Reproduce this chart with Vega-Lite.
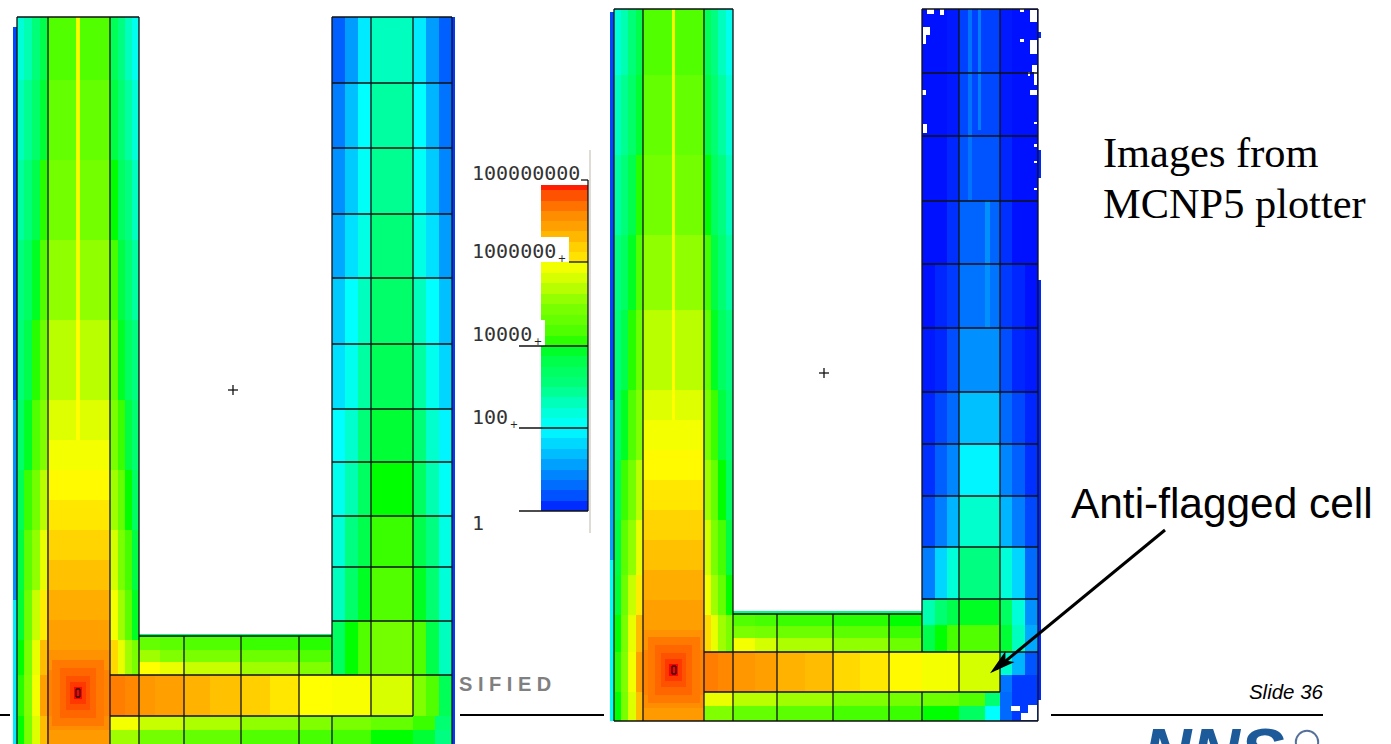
{"$schema":"https://vega.github.io/schema/vega-lite/v6.json","width":1391,"height":744,"padding":0,"autosize":{"type":"none"},"background":"white","config":{"view":{"stroke":null}},
"encoding":{"x":{"field":"x","type":"quantitative","scale":{"domain":[0,1391],"nice":false,"zero":false},"axis":null},"y":{"field":"y","type":"quantitative","scale":{"domain":[744,0],"nice":false,"zero":false},"axis":null}},
"datasets":{"cells":[
{"x":17,"x2":24,"y":17,"y2":80,"v":2.4},{"x":24,"x2":32,"y":17,"y2":80,"v":2.7},{"x":32,"x2":40,"y":17,"y2":80,"v":3.1},{"x":40,"x2":47,"y":17,"y2":80,"v":3.6},{"x":47,"x2":76,"y":17,"y2":80,"v":4.4},{"x":76,"x2":80,"y":17,"y2":80,"v":5.9},{"x":80,"x2":110,"y":17,"y2":80,"v":4.4},{"x":110,"x2":118,"y":17,"y2":80,"v":3.5},{"x":118,"x2":125,"y":17,"y2":80,"v":3.0},{"x":125,"x2":132,"y":17,"y2":80,"v":2.6},{"x":132,"x2":139,"y":17,"y2":80,"v":2.2},
{"x":17,"x2":24,"y":80,"y2":160,"v":2.6},{"x":24,"x2":32,"y":80,"y2":160,"v":2.9},{"x":32,"x2":40,"y":80,"y2":160,"v":3.3},{"x":40,"x2":47,"y":80,"y2":160,"v":3.8},{"x":47,"x2":76,"y":80,"y2":160,"v":4.6},{"x":76,"x2":80,"y":80,"y2":160,"v":5.9},{"x":80,"x2":110,"y":80,"y2":160,"v":4.6},{"x":110,"x2":118,"y":80,"y2":160,"v":3.7},{"x":118,"x2":125,"y":80,"y2":160,"v":3.2},{"x":125,"x2":132,"y":80,"y2":160,"v":2.8},{"x":132,"x2":139,"y":80,"y2":160,"v":2.4},
{"x":17,"x2":24,"y":160,"y2":240,"v":2.8},{"x":24,"x2":32,"y":160,"y2":240,"v":3.1},{"x":32,"x2":40,"y":160,"y2":240,"v":3.6},{"x":40,"x2":47,"y":160,"y2":240,"v":4.1},{"x":47,"x2":76,"y":160,"y2":240,"v":4.8},{"x":76,"x2":80,"y":160,"y2":240,"v":5.9},{"x":80,"x2":110,"y":160,"y2":240,"v":4.8},{"x":110,"x2":118,"y":160,"y2":240,"v":4.0},{"x":118,"x2":125,"y":160,"y2":240,"v":3.4},{"x":125,"x2":132,"y":160,"y2":240,"v":3.0},{"x":132,"x2":139,"y":160,"y2":240,"v":2.6},
{"x":17,"x2":24,"y":240,"y2":320,"v":3.0},{"x":24,"x2":32,"y":240,"y2":320,"v":3.4},{"x":32,"x2":40,"y":240,"y2":320,"v":3.9},{"x":40,"x2":47,"y":240,"y2":320,"v":4.4},{"x":47,"x2":76,"y":240,"y2":320,"v":5.1},{"x":76,"x2":80,"y":240,"y2":320,"v":5.9},{"x":80,"x2":110,"y":240,"y2":320,"v":5.1},{"x":110,"x2":118,"y":240,"y2":320,"v":4.3},{"x":118,"x2":125,"y":240,"y2":320,"v":3.7},{"x":125,"x2":132,"y":240,"y2":320,"v":3.2},{"x":132,"x2":139,"y":240,"y2":320,"v":2.8},
{"x":17,"x2":24,"y":320,"y2":400,"v":3.1},{"x":24,"x2":32,"y":320,"y2":400,"v":3.6},{"x":32,"x2":40,"y":320,"y2":400,"v":4.1},{"x":40,"x2":47,"y":320,"y2":400,"v":4.7},{"x":47,"x2":76,"y":320,"y2":400,"v":5.4},{"x":76,"x2":80,"y":320,"y2":400,"v":6.0},{"x":80,"x2":110,"y":320,"y2":400,"v":5.4},{"x":110,"x2":118,"y":320,"y2":400,"v":4.6},{"x":118,"x2":125,"y":320,"y2":400,"v":3.9},{"x":125,"x2":132,"y":320,"y2":400,"v":3.4},{"x":132,"x2":139,"y":320,"y2":400,"v":3.0},
{"x":17,"x2":24,"y":400,"y2":470,"v":3.3},{"x":24,"x2":32,"y":400,"y2":470,"v":3.9},{"x":32,"x2":40,"y":400,"y2":470,"v":4.4},{"x":40,"x2":47,"y":400,"y2":470,"v":5.0},{"x":47,"x2":76,"y":400,"y2":470,"v":5.7},{"x":76,"x2":80,"y":400,"y2":470,"v":6.0},{"x":80,"x2":110,"y":400,"y2":470,"v":5.7},{"x":110,"x2":118,"y":400,"y2":470,"v":4.9},{"x":118,"x2":125,"y":400,"y2":470,"v":4.2},{"x":125,"x2":132,"y":400,"y2":470,"v":3.7},{"x":132,"x2":139,"y":400,"y2":470,"v":3.2},
{"x":17,"x2":24,"y":470,"y2":530,"v":3.5},{"x":24,"x2":32,"y":470,"y2":530,"v":4.2},{"x":32,"x2":40,"y":470,"y2":530,"v":4.8},{"x":40,"x2":47,"y":470,"y2":530,"v":5.4},{"x":110,"x2":118,"y":470,"y2":530,"v":5.2},{"x":118,"x2":125,"y":470,"y2":530,"v":4.6},{"x":125,"x2":132,"y":470,"y2":530,"v":4.0},{"x":132,"x2":139,"y":470,"y2":530,"v":3.4},
{"x":17,"x2":24,"y":530,"y2":590,"v":3.7},{"x":24,"x2":32,"y":530,"y2":590,"v":4.5},{"x":32,"x2":40,"y":530,"y2":590,"v":5.1},{"x":40,"x2":47,"y":530,"y2":590,"v":5.8},{"x":110,"x2":118,"y":530,"y2":590,"v":5.6},{"x":118,"x2":125,"y":530,"y2":590,"v":4.9},{"x":125,"x2":132,"y":530,"y2":590,"v":4.3},{"x":132,"x2":139,"y":530,"y2":590,"v":3.7},
{"x":17,"x2":24,"y":590,"y2":640,"v":3.8},{"x":24,"x2":32,"y":590,"y2":640,"v":4.7},{"x":32,"x2":40,"y":590,"y2":640,"v":5.5},{"x":40,"x2":47,"y":590,"y2":640,"v":6.2},{"x":110,"x2":118,"y":590,"y2":640,"v":5.9},{"x":118,"x2":125,"y":590,"y2":640,"v":5.2},{"x":125,"x2":132,"y":590,"y2":640,"v":4.5},{"x":132,"x2":139,"y":590,"y2":640,"v":3.9},
{"x":17,"x2":24,"y":640,"y2":675,"v":4.0},{"x":24,"x2":32,"y":640,"y2":675,"v":4.9},{"x":32,"x2":40,"y":640,"y2":675,"v":5.8},{"x":40,"x2":47,"y":640,"y2":675,"v":6.7},{"x":110,"x2":118,"y":640,"y2":675,"v":6.4},{"x":118,"x2":125,"y":640,"y2":675,"v":5.8},{"x":125,"x2":132,"y":640,"y2":675,"v":5.2},{"x":132,"x2":139,"y":640,"y2":675,"v":4.9},
{"x":17,"x2":24,"y":675,"y2":716,"v":4.1},{"x":24,"x2":32,"y":675,"y2":716,"v":5.0},{"x":32,"x2":40,"y":675,"y2":716,"v":5.9},{"x":40,"x2":47,"y":675,"y2":716,"v":7.0},
{"x":17,"x2":24,"y":716,"y2":744,"v":4.0},{"x":24,"x2":32,"y":716,"y2":744,"v":4.9},{"x":32,"x2":40,"y":716,"y2":744,"v":5.7},{"x":40,"x2":47,"y":716,"y2":744,"v":6.7},
{"x":47,"x2":110,"y":440,"y2":470,"v":5.9},{"x":47,"x2":110,"y":470,"y2":500,"v":6.05},{"x":47,"x2":110,"y":500,"y2":530,"v":6.25},{"x":47,"x2":110,"y":530,"y2":560,"v":6.45},{"x":47,"x2":110,"y":560,"y2":590,"v":6.65},{"x":47,"x2":110,"y":590,"y2":620,"v":6.85},{"x":47,"x2":110,"y":620,"y2":650,"v":7.0},{"x":47,"x2":110,"y":650,"y2":670,"v":7.15},{"x":47,"x2":110,"y":670,"y2":716,"v":7.3},{"x":47,"x2":110,"y":716,"y2":730,"v":7.2},{"x":47,"x2":110,"y":730,"y2":744,"v":7.05},
{"x":52,"x2":104,"y":660,"y2":726,"v":7.4},{"x":60,"x2":96,"y":668,"y2":718,"v":7.55},{"x":66,"x2":90,"y":676,"y2":710,"v":7.7},{"x":70,"x2":86,"y":682,"y2":704,"v":7.85},{"x":74,"x2":82,"y":687,"y2":699,"v":8},
{"x":139,"x2":332,"y":634,"y2":637,"v":3.2},
{"x":139,"x2":160,"y":637,"y2":650,"v":4.6},{"x":160,"x2":184,"y":637,"y2":650,"v":4.5},{"x":184,"x2":241,"y":637,"y2":650,"v":4.4},{"x":241,"x2":299,"y":637,"y2":650,"v":4.2},{"x":299,"x2":332,"y":637,"y2":650,"v":4.1},
{"x":139,"x2":160,"y":650,"y2":662,"v":5.2},{"x":160,"x2":184,"y":650,"y2":662,"v":5.0},{"x":184,"x2":241,"y":650,"y2":662,"v":4.9},{"x":241,"x2":299,"y":650,"y2":662,"v":4.7},{"x":299,"x2":332,"y":650,"y2":662,"v":4.4},
{"x":139,"x2":160,"y":662,"y2":675,"v":6.0},{"x":160,"x2":184,"y":662,"y2":675,"v":5.8},{"x":184,"x2":241,"y":662,"y2":675,"v":5.5},{"x":241,"x2":299,"y":662,"y2":675,"v":5.2},{"x":299,"x2":332,"y":662,"y2":675,"v":5.0},
{"x":110,"x2":125,"y":675,"y2":716,"v":7.35},{"x":125,"x2":139,"y":675,"y2":716,"v":7.25},{"x":139,"x2":155,"y":675,"y2":716,"v":7.1},{"x":155,"x2":184,"y":675,"y2":716,"v":7.0},{"x":184,"x2":210,"y":675,"y2":716,"v":6.8},{"x":210,"x2":241,"y":675,"y2":716,"v":6.65},{"x":241,"x2":270,"y":675,"y2":716,"v":6.5},{"x":270,"x2":299,"y":675,"y2":716,"v":6.25},{"x":299,"x2":332,"y":675,"y2":716,"v":6.0},{"x":332,"x2":371,"y":675,"y2":716,"v":5.95},{"x":371,"x2":413,"y":675,"y2":716,"v":5.65},{"x":413,"x2":426,"y":675,"y2":716,"v":5.0},{"x":426,"x2":439,"y":675,"y2":716,"v":4.4},{"x":439,"x2":452,"y":675,"y2":716,"v":3.5},
{"x":110,"x2":139,"y":716,"y2":730,"v":5.9},{"x":139,"x2":184,"y":716,"y2":730,"v":5.5},{"x":184,"x2":241,"y":716,"y2":730,"v":5.3},{"x":241,"x2":299,"y":716,"y2":730,"v":5.1},{"x":299,"x2":332,"y":716,"y2":730,"v":5.0},{"x":332,"x2":371,"y":716,"y2":730,"v":4.9},{"x":371,"x2":413,"y":716,"y2":730,"v":4.6},{"x":413,"x2":435,"y":716,"y2":730,"v":4.2},{"x":435,"x2":452,"y":716,"y2":730,"v":3.2},
{"x":110,"x2":139,"y":730,"y2":744,"v":5.2},{"x":139,"x2":184,"y":730,"y2":744,"v":4.8},{"x":184,"x2":241,"y":730,"y2":744,"v":4.6},{"x":241,"x2":299,"y":730,"y2":744,"v":4.4},{"x":299,"x2":332,"y":730,"y2":744,"v":4.3},{"x":332,"x2":371,"y":730,"y2":744,"v":4.3},{"x":371,"x2":413,"y":730,"y2":744,"v":4.0},{"x":413,"x2":435,"y":730,"y2":744,"v":3.8},{"x":435,"x2":452,"y":730,"y2":744,"v":3.0},
{"x":332,"x2":345,"y":17,"y2":83,"v":0.5},{"x":345,"x2":358,"y":17,"y2":83,"v":1.1},{"x":358,"x2":371,"y":17,"y2":83,"v":1.8},{"x":371,"x2":413,"y":17,"y2":83,"v":2.6},{"x":413,"x2":426,"y":17,"y2":83,"v":1.8},{"x":426,"x2":439,"y":17,"y2":83,"v":1.1},{"x":439,"x2":452,"y":17,"y2":83,"v":0.5},
{"x":332,"x2":345,"y":83,"y2":148,"v":0.8},{"x":345,"x2":358,"y":83,"y2":148,"v":1.4},{"x":358,"x2":371,"y":83,"y2":148,"v":2.0},{"x":371,"x2":413,"y":83,"y2":148,"v":2.8},{"x":413,"x2":426,"y":83,"y2":148,"v":2.0},{"x":426,"x2":439,"y":83,"y2":148,"v":1.3},{"x":439,"x2":452,"y":83,"y2":148,"v":0.7},
{"x":332,"x2":345,"y":148,"y2":214,"v":1.0},{"x":345,"x2":358,"y":148,"y2":214,"v":1.5},{"x":358,"x2":371,"y":148,"y2":214,"v":2.1},{"x":371,"x2":413,"y":148,"y2":214,"v":2.9},{"x":413,"x2":426,"y":148,"y2":214,"v":2.1},{"x":426,"x2":439,"y":148,"y2":214,"v":1.5},{"x":439,"x2":452,"y":148,"y2":214,"v":0.9},
{"x":332,"x2":345,"y":214,"y2":278,"v":1.2},{"x":345,"x2":358,"y":214,"y2":278,"v":1.7},{"x":358,"x2":371,"y":214,"y2":278,"v":2.3},{"x":371,"x2":413,"y":214,"y2":278,"v":3.1},{"x":413,"x2":426,"y":214,"y2":278,"v":2.3},{"x":426,"x2":439,"y":214,"y2":278,"v":1.7},{"x":439,"x2":452,"y":214,"y2":278,"v":1.1},
{"x":332,"x2":345,"y":278,"y2":344,"v":1.5},{"x":345,"x2":358,"y":278,"y2":344,"v":2.0},{"x":358,"x2":371,"y":278,"y2":344,"v":2.6},{"x":371,"x2":413,"y":278,"y2":344,"v":3.3},{"x":413,"x2":426,"y":278,"y2":344,"v":2.6},{"x":426,"x2":439,"y":278,"y2":344,"v":2.0},{"x":439,"x2":452,"y":278,"y2":344,"v":1.4},
{"x":332,"x2":345,"y":344,"y2":409,"v":1.7},{"x":345,"x2":358,"y":344,"y2":409,"v":2.2},{"x":358,"x2":371,"y":344,"y2":409,"v":2.8},{"x":371,"x2":413,"y":344,"y2":409,"v":3.5},{"x":413,"x2":426,"y":344,"y2":409,"v":2.8},{"x":426,"x2":439,"y":344,"y2":409,"v":2.2},{"x":439,"x2":452,"y":344,"y2":409,"v":1.6},
{"x":332,"x2":345,"y":409,"y2":462,"v":2.0},{"x":345,"x2":358,"y":409,"y2":462,"v":2.5},{"x":358,"x2":371,"y":409,"y2":462,"v":3.1},{"x":371,"x2":413,"y":409,"y2":462,"v":3.8},{"x":413,"x2":426,"y":409,"y2":462,"v":3.1},{"x":426,"x2":439,"y":409,"y2":462,"v":2.5},{"x":439,"x2":452,"y":409,"y2":462,"v":1.9},
{"x":332,"x2":345,"y":462,"y2":516,"v":2.2},{"x":345,"x2":358,"y":462,"y2":516,"v":2.7},{"x":358,"x2":371,"y":462,"y2":516,"v":3.4},{"x":371,"x2":413,"y":462,"y2":516,"v":4.0},{"x":413,"x2":426,"y":462,"y2":516,"v":3.4},{"x":426,"x2":439,"y":462,"y2":516,"v":2.7},{"x":439,"x2":452,"y":462,"y2":516,"v":2.1},
{"x":332,"x2":345,"y":516,"y2":568,"v":2.4},{"x":345,"x2":358,"y":516,"y2":568,"v":3.0},{"x":358,"x2":371,"y":516,"y2":568,"v":3.6},{"x":371,"x2":413,"y":516,"y2":568,"v":4.2},{"x":413,"x2":426,"y":516,"y2":568,"v":3.6},{"x":426,"x2":439,"y":516,"y2":568,"v":3.0},{"x":439,"x2":452,"y":516,"y2":568,"v":2.3},
{"x":332,"x2":345,"y":568,"y2":621,"v":2.6},{"x":345,"x2":358,"y":568,"y2":621,"v":3.3},{"x":358,"x2":371,"y":568,"y2":621,"v":3.9},{"x":371,"x2":413,"y":568,"y2":621,"v":4.4},{"x":413,"x2":426,"y":568,"y2":621,"v":3.9},{"x":426,"x2":439,"y":568,"y2":621,"v":3.2},{"x":439,"x2":452,"y":568,"y2":621,"v":2.4},
{"x":332,"x2":345,"y":621,"y2":675,"v":3.4},{"x":345,"x2":358,"y":621,"y2":675,"v":4.0},{"x":358,"x2":371,"y":621,"y2":675,"v":4.4},{"x":371,"x2":413,"y":621,"y2":675,"v":4.8},{"x":413,"x2":426,"y":621,"y2":675,"v":4.4},{"x":426,"x2":439,"y":621,"y2":675,"v":3.6},{"x":439,"x2":452,"y":621,"y2":675,"v":2.6},
{"x":13,"x2":17,"y":27,"y2":400,"v":0.3},{"x":13,"x2":17,"y":400,"y2":600,"v":1.0},{"x":13,"x2":17,"y":600,"y2":744,"v":1.8},{"x":452,"x2":455,"y":17,"y2":744,"v":0.2},
{"x":614,"x2":621,"y":9,"y2":75,"v":2.4},{"x":621,"x2":628,"y":9,"y2":75,"v":2.7},{"x":628,"x2":636,"y":9,"y2":75,"v":3.1},{"x":636,"x2":643,"y":9,"y2":75,"v":3.6},{"x":643,"x2":672,"y":9,"y2":75,"v":4.4},{"x":672,"x2":675,"y":9,"y2":75,"v":5.9},{"x":675,"x2":704,"y":9,"y2":75,"v":4.4},{"x":704,"x2":711,"y":9,"y2":75,"v":3.5},{"x":711,"x2":718,"y":9,"y2":75,"v":3.0},{"x":718,"x2":726,"y":9,"y2":75,"v":2.6},{"x":726,"x2":733,"y":9,"y2":75,"v":2.2},
{"x":614,"x2":621,"y":75,"y2":155,"v":2.6},{"x":621,"x2":628,"y":75,"y2":155,"v":2.9},{"x":628,"x2":636,"y":75,"y2":155,"v":3.3},{"x":636,"x2":643,"y":75,"y2":155,"v":3.8},{"x":643,"x2":672,"y":75,"y2":155,"v":4.6},{"x":672,"x2":675,"y":75,"y2":155,"v":5.9},{"x":675,"x2":704,"y":75,"y2":155,"v":4.6},{"x":704,"x2":711,"y":75,"y2":155,"v":3.7},{"x":711,"x2":718,"y":75,"y2":155,"v":3.2},{"x":718,"x2":726,"y":75,"y2":155,"v":2.8},{"x":726,"x2":733,"y":75,"y2":155,"v":2.4},
{"x":614,"x2":621,"y":155,"y2":235,"v":2.8},{"x":621,"x2":628,"y":155,"y2":235,"v":3.1},{"x":628,"x2":636,"y":155,"y2":235,"v":3.6},{"x":636,"x2":643,"y":155,"y2":235,"v":4.1},{"x":643,"x2":672,"y":155,"y2":235,"v":4.8},{"x":672,"x2":675,"y":155,"y2":235,"v":5.9},{"x":675,"x2":704,"y":155,"y2":235,"v":4.8},{"x":704,"x2":711,"y":155,"y2":235,"v":4.0},{"x":711,"x2":718,"y":155,"y2":235,"v":3.4},{"x":718,"x2":726,"y":155,"y2":235,"v":3.0},{"x":726,"x2":733,"y":155,"y2":235,"v":2.6},
{"x":614,"x2":621,"y":235,"y2":310,"v":3.0},{"x":621,"x2":628,"y":235,"y2":310,"v":3.4},{"x":628,"x2":636,"y":235,"y2":310,"v":3.9},{"x":636,"x2":643,"y":235,"y2":310,"v":4.4},{"x":643,"x2":672,"y":235,"y2":310,"v":5.1},{"x":672,"x2":675,"y":235,"y2":310,"v":5.9},{"x":675,"x2":704,"y":235,"y2":310,"v":5.1},{"x":704,"x2":711,"y":235,"y2":310,"v":4.3},{"x":711,"x2":718,"y":235,"y2":310,"v":3.7},{"x":718,"x2":726,"y":235,"y2":310,"v":3.2},{"x":726,"x2":733,"y":235,"y2":310,"v":2.8},
{"x":614,"x2":621,"y":310,"y2":390,"v":3.1},{"x":621,"x2":628,"y":310,"y2":390,"v":3.6},{"x":628,"x2":636,"y":310,"y2":390,"v":4.1},{"x":636,"x2":643,"y":310,"y2":390,"v":4.7},{"x":643,"x2":672,"y":310,"y2":390,"v":5.4},{"x":672,"x2":675,"y":310,"y2":390,"v":6.0},{"x":675,"x2":704,"y":310,"y2":390,"v":5.4},{"x":704,"x2":711,"y":310,"y2":390,"v":4.6},{"x":711,"x2":718,"y":310,"y2":390,"v":3.9},{"x":718,"x2":726,"y":310,"y2":390,"v":3.4},{"x":726,"x2":733,"y":310,"y2":390,"v":3.0},
{"x":614,"x2":621,"y":390,"y2":460,"v":3.3},{"x":621,"x2":628,"y":390,"y2":460,"v":3.9},{"x":628,"x2":636,"y":390,"y2":460,"v":4.4},{"x":636,"x2":643,"y":390,"y2":460,"v":5.0},{"x":643,"x2":672,"y":390,"y2":420,"v":5.7},{"x":672,"x2":675,"y":390,"y2":420,"v":6.0},{"x":675,"x2":704,"y":390,"y2":420,"v":5.7},{"x":704,"x2":711,"y":390,"y2":460,"v":4.9},{"x":711,"x2":718,"y":390,"y2":460,"v":4.2},{"x":718,"x2":726,"y":390,"y2":460,"v":3.7},{"x":726,"x2":733,"y":390,"y2":460,"v":3.2},
{"x":614,"x2":621,"y":460,"y2":520,"v":3.5},{"x":621,"x2":628,"y":460,"y2":520,"v":4.2},{"x":628,"x2":636,"y":460,"y2":520,"v":4.8},{"x":636,"x2":643,"y":460,"y2":520,"v":5.4},{"x":704,"x2":711,"y":460,"y2":520,"v":5.2},{"x":711,"x2":718,"y":460,"y2":520,"v":4.6},{"x":718,"x2":726,"y":460,"y2":520,"v":4.0},{"x":726,"x2":733,"y":460,"y2":520,"v":3.4},
{"x":614,"x2":621,"y":520,"y2":575,"v":3.7},{"x":621,"x2":628,"y":520,"y2":575,"v":4.5},{"x":628,"x2":636,"y":520,"y2":575,"v":5.1},{"x":636,"x2":643,"y":520,"y2":575,"v":5.8},{"x":704,"x2":711,"y":520,"y2":575,"v":5.6},{"x":711,"x2":718,"y":520,"y2":575,"v":4.9},{"x":718,"x2":726,"y":520,"y2":575,"v":4.3},{"x":726,"x2":733,"y":520,"y2":575,"v":3.7},
{"x":614,"x2":621,"y":575,"y2":615,"v":3.8},{"x":621,"x2":628,"y":575,"y2":615,"v":4.7},{"x":628,"x2":636,"y":575,"y2":615,"v":5.5},{"x":636,"x2":643,"y":575,"y2":615,"v":6.2},{"x":704,"x2":711,"y":575,"y2":615,"v":5.9},{"x":711,"x2":718,"y":575,"y2":615,"v":5.2},{"x":718,"x2":726,"y":575,"y2":615,"v":4.6},{"x":726,"x2":733,"y":575,"y2":615,"v":4.0},
{"x":614,"x2":621,"y":615,"y2":652,"v":4.0},{"x":621,"x2":628,"y":615,"y2":652,"v":4.9},{"x":628,"x2":636,"y":615,"y2":652,"v":5.8},{"x":636,"x2":643,"y":615,"y2":652,"v":6.7},{"x":704,"x2":711,"y":615,"y2":652,"v":6.4},{"x":711,"x2":718,"y":615,"y2":652,"v":5.8},{"x":718,"x2":726,"y":615,"y2":652,"v":5.2},{"x":726,"x2":733,"y":615,"y2":652,"v":4.9},
{"x":614,"x2":621,"y":652,"y2":692,"v":4.1},{"x":621,"x2":628,"y":652,"y2":692,"v":5.0},{"x":628,"x2":636,"y":652,"y2":692,"v":5.9},{"x":636,"x2":643,"y":652,"y2":692,"v":7.0},
{"x":614,"x2":621,"y":692,"y2":721,"v":4.0},{"x":621,"x2":628,"y":692,"y2":721,"v":4.9},{"x":628,"x2":636,"y":692,"y2":721,"v":5.7},{"x":636,"x2":643,"y":692,"y2":721,"v":6.7},
{"x":643,"x2":704,"y":420,"y2":450,"v":5.9},{"x":643,"x2":704,"y":450,"y2":480,"v":6.05},{"x":643,"x2":704,"y":480,"y2":510,"v":6.25},{"x":643,"x2":704,"y":510,"y2":540,"v":6.45},{"x":643,"x2":704,"y":540,"y2":570,"v":6.65},{"x":643,"x2":704,"y":570,"y2":600,"v":6.85},{"x":643,"x2":704,"y":600,"y2":630,"v":7.0},{"x":643,"x2":704,"y":630,"y2":650,"v":7.15},{"x":643,"x2":704,"y":650,"y2":695,"v":7.3},{"x":643,"x2":704,"y":695,"y2":708,"v":7.2},{"x":643,"x2":704,"y":708,"y2":721,"v":7.05},
{"x":648,"x2":700,"y":637,"y2":703,"v":7.4},{"x":655,"x2":692,"y":645,"y2":695,"v":7.55},{"x":661,"x2":686,"y":653,"y2":687,"v":7.7},{"x":665,"x2":682,"y":659,"y2":681,"v":7.85},{"x":669,"x2":678,"y":664,"y2":676,"v":8},
{"x":733,"x2":922,"y":611,"y2":614,"v":3.0},
{"x":733,"x2":755,"y":614,"y2":626,"v":4.4},{"x":755,"x2":777,"y":614,"y2":626,"v":4.3},{"x":777,"x2":833,"y":614,"y2":626,"v":4.2},{"x":833,"x2":889,"y":614,"y2":626,"v":4.1},{"x":889,"x2":922,"y":614,"y2":626,"v":4.0},
{"x":733,"x2":755,"y":626,"y2":638,"v":4.9},{"x":755,"x2":777,"y":626,"y2":638,"v":4.8},{"x":777,"x2":833,"y":626,"y2":638,"v":4.7},{"x":833,"x2":889,"y":626,"y2":638,"v":4.5},{"x":889,"x2":922,"y":626,"y2":638,"v":4.2},
{"x":733,"x2":755,"y":638,"y2":652,"v":5.9},{"x":755,"x2":777,"y":638,"y2":652,"v":5.6},{"x":777,"x2":833,"y":638,"y2":652,"v":5.3},{"x":833,"x2":889,"y":638,"y2":652,"v":5.1},{"x":889,"x2":922,"y":638,"y2":652,"v":4.7},
{"x":704,"x2":718,"y":652,"y2":692,"v":7.35},{"x":718,"x2":734,"y":652,"y2":692,"v":7.25},{"x":734,"x2":755,"y":652,"y2":692,"v":7.1},{"x":755,"x2":777,"y":652,"y2":692,"v":7.0},{"x":777,"x2":805,"y":652,"y2":692,"v":6.8},{"x":805,"x2":833,"y":652,"y2":692,"v":6.7},{"x":833,"x2":860,"y":652,"y2":692,"v":6.4},{"x":860,"x2":889,"y":652,"y2":692,"v":6.25},{"x":889,"x2":922,"y":652,"y2":692,"v":6.05},{"x":922,"x2":959,"y":652,"y2":692,"v":5.9},{"x":959,"x2":1000,"y":652,"y2":692,"v":5.6},
{"x":1000,"x2":1012,"y":652,"y2":675,"v":2.5},{"x":1012,"x2":1025,"y":652,"y2":675,"v":1.3},{"x":1025,"x2":1038,"y":652,"y2":675,"v":0.4},{"x":1000,"x2":1012,"y":675,"y2":692,"v":0.7},{"x":1012,"x2":1038,"y":675,"y2":692,"v":0.2},
{"x":704,"x2":734,"y":692,"y2":706,"v":5.8},{"x":734,"x2":777,"y":692,"y2":706,"v":5.4},{"x":777,"x2":833,"y":692,"y2":706,"v":5.2},{"x":833,"x2":889,"y":692,"y2":706,"v":5.0},{"x":889,"x2":922,"y":692,"y2":706,"v":4.8},{"x":922,"x2":959,"y":692,"y2":706,"v":4.7},{"x":959,"x2":985,"y":692,"y2":706,"v":4.4},{"x":985,"x2":1000,"y":692,"y2":706,"v":3.2},{"x":1000,"x2":1012,"y":692,"y2":706,"v":0.6},{"x":1012,"x2":1038,"y":692,"y2":706,"v":0.2},
{"x":704,"x2":734,"y":706,"y2":721,"v":5.0},{"x":734,"x2":777,"y":706,"y2":721,"v":4.6},{"x":777,"x2":833,"y":706,"y2":721,"v":4.5},{"x":833,"x2":889,"y":706,"y2":721,"v":4.3},{"x":889,"x2":922,"y":706,"y2":721,"v":4.2},{"x":922,"x2":959,"y":706,"y2":721,"v":4.0},{"x":959,"x2":985,"y":706,"y2":721,"v":3.4},{"x":985,"x2":1000,"y":706,"y2":721,"v":2.0},{"x":1000,"x2":1012,"y":706,"y2":721,"v":0.6},{"x":1012,"x2":1038,"y":706,"y2":721,"v":0.2},
{"x":922,"x2":947,"y":9,"y2":73,"v":0.03},{"x":947,"x2":959,"y":9,"y2":73,"v":0.05},{"x":959,"x2":1000,"y":9,"y2":73,"v":0.25},{"x":1000,"x2":1012,"y":9,"y2":73,"v":0.05},{"x":1012,"x2":1038,"y":9,"y2":73,"v":0.03},
{"x":922,"x2":947,"y":73,"y2":136,"v":0.03},{"x":947,"x2":959,"y":73,"y2":136,"v":0.05},{"x":959,"x2":1000,"y":73,"y2":136,"v":0.3},{"x":1000,"x2":1012,"y":73,"y2":136,"v":0.05},{"x":1012,"x2":1038,"y":73,"y2":136,"v":0.03},
{"x":922,"x2":947,"y":136,"y2":201,"v":0.03},{"x":947,"x2":959,"y":136,"y2":201,"v":0.1},{"x":959,"x2":1000,"y":136,"y2":201,"v":0.4},{"x":1000,"x2":1012,"y":136,"y2":201,"v":0.1},{"x":1012,"x2":1038,"y":136,"y2":201,"v":0.03},
{"x":922,"x2":947,"y":201,"y2":264,"v":0.03},{"x":947,"x2":959,"y":201,"y2":264,"v":0.15},{"x":959,"x2":1000,"y":201,"y2":264,"v":0.55},{"x":1000,"x2":1012,"y":201,"y2":264,"v":0.15},{"x":1012,"x2":1038,"y":201,"y2":264,"v":0.03},
{"x":922,"x2":935,"y":264,"y2":328,"v":0.03},{"x":935,"x2":947,"y":264,"y2":328,"v":0.1},{"x":947,"x2":959,"y":264,"y2":328,"v":0.2},{"x":959,"x2":1000,"y":264,"y2":328,"v":0.7},{"x":1000,"x2":1012,"y":264,"y2":328,"v":0.2},{"x":1012,"x2":1025,"y":264,"y2":328,"v":0.1},{"x":1025,"x2":1038,"y":264,"y2":328,"v":0.03},
{"x":922,"x2":935,"y":328,"y2":392,"v":0.05},{"x":935,"x2":947,"y":328,"y2":392,"v":0.1},{"x":947,"x2":959,"y":328,"y2":392,"v":0.35},{"x":959,"x2":1000,"y":328,"y2":392,"v":1.0},{"x":1000,"x2":1012,"y":328,"y2":392,"v":0.35},{"x":1012,"x2":1025,"y":328,"y2":392,"v":0.1},{"x":1025,"x2":1038,"y":328,"y2":392,"v":0.05},
{"x":922,"x2":935,"y":392,"y2":444,"v":0.1},{"x":935,"x2":947,"y":392,"y2":444,"v":0.3},{"x":947,"x2":959,"y":392,"y2":444,"v":0.6},{"x":959,"x2":1000,"y":392,"y2":444,"v":1.4},{"x":1000,"x2":1012,"y":392,"y2":444,"v":0.6},{"x":1012,"x2":1025,"y":392,"y2":444,"v":0.3},{"x":1025,"x2":1038,"y":392,"y2":444,"v":0.1},
{"x":922,"x2":935,"y":444,"y2":496,"v":0.15},{"x":935,"x2":947,"y":444,"y2":496,"v":0.5},{"x":947,"x2":959,"y":444,"y2":496,"v":0.9},{"x":959,"x2":1000,"y":444,"y2":496,"v":1.9},{"x":1000,"x2":1012,"y":444,"y2":496,"v":0.9},{"x":1012,"x2":1025,"y":444,"y2":496,"v":0.5},{"x":1025,"x2":1038,"y":444,"y2":496,"v":0.15},
{"x":922,"x2":935,"y":496,"y2":547,"v":0.3},{"x":935,"x2":947,"y":496,"y2":547,"v":0.8},{"x":947,"x2":959,"y":496,"y2":547,"v":1.3},{"x":959,"x2":1000,"y":496,"y2":547,"v":2.5},{"x":1000,"x2":1012,"y":496,"y2":547,"v":1.3},{"x":1012,"x2":1025,"y":496,"y2":547,"v":0.8},{"x":1025,"x2":1038,"y":496,"y2":547,"v":0.3},
{"x":922,"x2":935,"y":547,"y2":600,"v":0.8},{"x":935,"x2":947,"y":547,"y2":600,"v":1.6},{"x":947,"x2":959,"y":547,"y2":600,"v":2.4},{"x":959,"x2":1000,"y":547,"y2":600,"v":3.0},{"x":1000,"x2":1012,"y":547,"y2":600,"v":2.4},{"x":1012,"x2":1025,"y":547,"y2":600,"v":1.6},{"x":1025,"x2":1038,"y":547,"y2":600,"v":0.6},
{"x":922,"x2":935,"y":600,"y2":625,"v":2.7},{"x":935,"x2":947,"y":600,"y2":625,"v":3.2},{"x":947,"x2":959,"y":600,"y2":625,"v":3.6},{"x":959,"x2":1000,"y":600,"y2":625,"v":3.9},{"x":1000,"x2":1012,"y":600,"y2":625,"v":3.4},{"x":1012,"x2":1025,"y":600,"y2":625,"v":2.4},{"x":1025,"x2":1038,"y":600,"y2":625,"v":1.0},
{"x":922,"x2":935,"y":625,"y2":652,"v":3.6},{"x":935,"x2":947,"y":625,"y2":652,"v":4.0},{"x":947,"x2":959,"y":625,"y2":652,"v":4.3},{"x":959,"x2":1000,"y":625,"y2":652,"v":4.4},{"x":1000,"x2":1012,"y":625,"y2":652,"v":3.8},{"x":1012,"x2":1025,"y":625,"y2":652,"v":2.6},{"x":1025,"x2":1038,"y":625,"y2":652,"v":1.2},
{"x":968,"x2":972,"y":9,"y2":200,"v":0.7},{"x":978,"x2":981,"y":9,"y2":130,"v":0.8},{"x":985,"x2":990,"y":200,"y2":392,"v":1.0},
{"x":610,"x2":614,"y":12,"y2":400,"v":0.3},{"x":610,"x2":614,"y":400,"y2":560,"v":1.2},{"x":610,"x2":614,"y":560,"y2":721,"v":2.1},{"x":1038,"x2":1041,"y":280,"y2":700,"v":0.1},{"x":1038,"x2":1041,"y":150,"y2":178,"v":0.1},{"x":1038,"x2":1041,"y":32,"y2":38,"v":0.1},
{"x":541,"x2":588,"y":501,"y2":511,"v":0.125},{"x":541,"x2":588,"y":490,"y2":501,"v":0.375},{"x":541,"x2":588,"y":480,"y2":490,"v":0.625},{"x":541,"x2":588,"y":470,"y2":480,"v":0.875},{"x":541,"x2":588,"y":459,"y2":470,"v":1.125},{"x":541,"x2":588,"y":449,"y2":459,"v":1.375},{"x":541,"x2":588,"y":438,"y2":449,"v":1.625},{"x":541,"x2":588,"y":428,"y2":438,"v":1.875},
{"x":541,"x2":588,"y":418,"y2":428,"v":2.125},{"x":541,"x2":588,"y":408,"y2":418,"v":2.375},{"x":541,"x2":588,"y":397,"y2":408,"v":2.625},{"x":541,"x2":588,"y":387,"y2":397,"v":2.875},{"x":541,"x2":588,"y":377,"y2":387,"v":3.125},{"x":541,"x2":588,"y":367,"y2":377,"v":3.375},{"x":541,"x2":588,"y":356,"y2":367,"v":3.625},{"x":541,"x2":588,"y":346,"y2":356,"v":3.875},
{"x":541,"x2":588,"y":336,"y2":346,"v":4.125},{"x":541,"x2":588,"y":325,"y2":336,"v":4.375},{"x":541,"x2":588,"y":315,"y2":325,"v":4.625},{"x":541,"x2":588,"y":304,"y2":315,"v":4.875},{"x":541,"x2":588,"y":294,"y2":304,"v":5.125},{"x":541,"x2":588,"y":283,"y2":294,"v":5.375},{"x":541,"x2":588,"y":273,"y2":283,"v":5.625},{"x":541,"x2":588,"y":262,"y2":273,"v":5.875},
{"x":541,"x2":588,"y":252,"y2":262,"v":6.3},{"x":541,"x2":588,"y":242,"y2":252,"v":6.5},{"x":541,"x2":588,"y":231,"y2":242,"v":6.75},{"x":541,"x2":588,"y":221,"y2":231,"v":7.0},{"x":541,"x2":588,"y":211,"y2":221,"v":7.2},{"x":541,"x2":588,"y":201,"y2":211,"v":7.45},{"x":541,"x2":588,"y":190,"y2":201,"v":7.7},{"x":541,"x2":588,"y":185,"y2":190,"v":7.95}
],
"holes":[
{"x":541,"x2":569,"y":237,"y2":262},{"x":541,"x2":545,"y":320,"y2":346},
{"x":927,"x2":934,"y":9,"y2":14},{"x":940,"x2":944,"y":9,"y2":15},{"x":1020,"x2":1024,"y":9,"y2":12},{"x":1030,"x2":1037,"y":10,"y2":22},{"x":923,"x2":930,"y":27,"y2":35},{"x":923,"x2":926,"y":35,"y2":44},{"x":1020,"x2":1024,"y":39,"y2":42},{"x":1030,"x2":1037,"y":40,"y2":54},{"x":1032,"x2":1037,"y":65,"y2":72},{"x":1028,"x2":1030,"y":72,"y2":76},{"x":1034,"x2":1037,"y":72,"y2":85},{"x":922,"x2":926,"y":90,"y2":95},{"x":1030,"x2":1037,"y":90,"y2":95},{"x":923,"x2":927,"y":124,"y2":133},{"x":1034,"x2":1037,"y":122,"y2":124},{"x":1034,"x2":1037,"y":144,"y2":147},{"x":1034,"x2":1037,"y":161,"y2":163},{"x":1034,"x2":1037,"y":188,"y2":190},
{"x":1011,"x2":1020,"y":706,"y2":711},{"x":1021,"x2":1037,"y":713,"y2":720},{"x":1028,"x2":1037,"y":705,"y2":713}
],
"grid":[
{"x":17,"y":17,"x2":17,"y2":744},{"x":48,"y":17,"x2":48,"y2":744},{"x":110,"y":17,"x2":110,"y2":744},{"x":139,"y":17,"x2":139,"y2":744},{"x":184,"y":636,"x2":184,"y2":744},{"x":241,"y":636,"x2":241,"y2":744},{"x":299,"y":636,"x2":299,"y2":744},{"x":332,"y":17,"x2":332,"y2":675},{"x":332,"y":716,"x2":332,"y2":744},{"x":371,"y":17,"x2":371,"y2":716},{"x":413,"y":17,"x2":413,"y2":716},{"x":452,"y":17,"x2":452,"y2":744},
{"x":17,"y":17,"x2":139,"y2":17},{"x":332,"y":17,"x2":452,"y2":17},{"x":332,"y":83,"x2":452,"y2":83},{"x":332,"y":148,"x2":452,"y2":148},{"x":332,"y":214,"x2":452,"y2":214},{"x":332,"y":278,"x2":452,"y2":278},{"x":332,"y":344,"x2":452,"y2":344},{"x":332,"y":409,"x2":452,"y2":409},{"x":332,"y":462,"x2":452,"y2":462},{"x":332,"y":516,"x2":452,"y2":516},{"x":332,"y":567,"x2":452,"y2":567},{"x":332,"y":621,"x2":452,"y2":621},{"x":139,"y":636,"x2":332,"y2":636},{"x":110,"y":675,"x2":452,"y2":675},{"x":110,"y":716,"x2":413,"y2":716},
{"x":614,"y":9,"x2":614,"y2":721},{"x":643,"y":9,"x2":643,"y2":721},{"x":704,"y":9,"x2":704,"y2":721},{"x":733,"y":9,"x2":733,"y2":721},{"x":777,"y":614,"x2":777,"y2":721},{"x":833,"y":614,"x2":833,"y2":721},{"x":889,"y":614,"x2":889,"y2":721},{"x":922,"y":9,"x2":922,"y2":652},{"x":922,"y":692,"x2":922,"y2":721},{"x":959,"y":9,"x2":959,"y2":692},{"x":1000,"y":9,"x2":1000,"y2":692},{"x":1038,"y":9,"x2":1038,"y2":721},
{"x":614,"y":9,"x2":733,"y2":9},{"x":922,"y":9,"x2":1038,"y2":9},{"x":614,"y":721,"x2":1038,"y2":721},{"x":733,"y":614,"x2":922,"y2":614},{"x":704,"y":652,"x2":1038,"y2":652},{"x":704,"y":692,"x2":1000,"y2":692},{"x":922,"y":73,"x2":1038,"y2":73},{"x":922,"y":136,"x2":1038,"y2":136},{"x":922,"y":201,"x2":1038,"y2":201},{"x":922,"y":264,"x2":1038,"y2":264},{"x":922,"y":328,"x2":1038,"y2":328},{"x":922,"y":392,"x2":1038,"y2":392},{"x":922,"y":444,"x2":1038,"y2":444},{"x":922,"y":496,"x2":1038,"y2":496},{"x":922,"y":547,"x2":1038,"y2":547},{"x":922,"y":599,"x2":1038,"y2":599},
{"x":228,"y":390,"x2":238,"y2":390},{"x":233,"y":385,"x2":233,"y2":395},{"x":819,"y":373,"x2":829,"y2":373},{"x":824,"y":368,"x2":824,"y2":378},
{"x":76,"y":689,"x2":80,"y2":689},{"x":76,"y":697,"x2":80,"y2":697},{"x":76,"y":689,"x2":76,"y2":697},{"x":80,"y":689,"x2":80,"y2":697},{"x":672,"y":666,"x2":676,"y2":666},{"x":672,"y":674,"x2":676,"y2":674},{"x":672,"y":666,"x2":672,"y2":674},{"x":676,"y":666,"x2":676,"y2":674},
{"x":519,"y":428,"x2":588,"y2":428},{"x":519,"y":346,"x2":588,"y2":346},{"x":519,"y":511,"x2":588,"y2":511},{"x":569,"y":262,"x2":588,"y2":262},{"x":588,"y":180,"x2":588,"y2":511},{"x":581,"y":180,"x2":588,"y2":180}
],
"footer":[{"x":0,"y":715,"x2":10,"y2":715},{"x":460,"y":715,"x2":604,"y2":715},{"x":1051,"y":715,"x2":1323,"y2":715}],
"frame":[{"x":590,"y":150,"x2":590,"y2":533}],
"arrow":[{"x":1165,"y":530,"x2":996,"y2":669}]},
"layer":[
{"data":{"name":"cells"},"mark":{"type":"rect"},"encoding":{"x2":{"field":"x2"},"y2":{"field":"y2"},"color":{"field":"v","type":"quantitative","legend":null,"scale":{"domain":[0,1,2,3,4,5,6,7,8],"range":["#0000ff","#0090ff","#00ffff","#00ff80","#00ff00","#80ff00","#ffff00","#ffa000","#ff0000"]}}}},
{"data":{"name":"holes"},"mark":{"type":"rect","color":"white"},"encoding":{"x2":{"field":"x2"},"y2":{"field":"y2"}}},
{"data":{"name":"grid"},"mark":{"type":"rule","color":"#111111","strokeWidth":1.3},"encoding":{"x2":{"field":"x2"},"y2":{"field":"y2"}}},
{"data":{"name":"frame"},"mark":{"type":"rule","color":"#d5d0c8","strokeWidth":1.5},"encoding":{"x2":{"field":"x2"},"y2":{"field":"y2"}}},
{"data":{"name":"footer"},"mark":{"type":"rule","color":"black","strokeWidth":2},"encoding":{"x2":{"field":"x2"},"y2":{"field":"y2"}}},
{"data":{"name":"arrow"},"mark":{"type":"rule","color":"black","strokeWidth":3},"encoding":{"x2":{"field":"x2"},"y2":{"field":"y2"}}},
{"data":{"values":[{"x":1000,"y":665,"dir":230}]},"mark":{"type":"point","filled":true,"color":"black","opacity":1,"size":676,"shape":"M0,-1L0.55,1L0,0.55L-0.55,1Z"},"encoding":{"angle":{"field":"dir","type":"quantitative","scale":null}}},
{"data":{"values":[{"x":1103,"y":167,"t":"Images from"},{"x":1103,"y":218,"t":"MCNP5 plotter"}]},"mark":{"type":"text","font":"Liberation Serif","fontSize":42.4,"align":"left","baseline":"alphabetic","color":"black"},"encoding":{"text":{"field":"t"}}},
{"data":{"values":[{"x":1071,"y":518,"t":"Anti-flagged cell"}]},"mark":{"type":"text","font":"Liberation Sans","fontSize":42.4,"align":"left","baseline":"alphabetic","color":"black"},"encoding":{"text":{"field":"t"}}},
{"data":{"values":[{"x":459,"y":691,"t":"S I F I E D"}]},"mark":{"type":"text","font":"Liberation Sans","fontWeight":"bold","fontSize":20,"align":"left","baseline":"alphabetic","color":"#808080"},"encoding":{"text":{"field":"t"}}},
{"data":{"values":[{"x":1323,"y":699,"t":"Slide 36"}]},"mark":{"type":"text","font":"Liberation Sans","fontStyle":"italic","fontSize":20.5,"align":"right","baseline":"alphabetic","color":"black"},"encoding":{"text":{"field":"t"}}},
{"data":{"values":[{"x":472,"y":180,"t":"100000000"},{"x":472,"y":258,"t":"1000000"},{"x":472,"y":341,"t":"10000"},{"x":472,"y":424,"t":"100"},{"x":472,"y":530,"t":"1"}]},"mark":{"type":"text","font":"DejaVu Sans Mono","fontSize":20,"align":"left","baseline":"alphabetic","color":"#333333"},"encoding":{"text":{"field":"t"}}},
{"data":{"values":[{"x":562,"y":262,"t":"+"},{"x":538,"y":345,"t":"+"},{"x":514,"y":428,"t":"+"}]},"mark":{"type":"text","font":"DejaVu Sans","fontSize":10,"align":"center","baseline":"alphabetic","color":"#222222"},"encoding":{"text":{"field":"t"}}},
{"data":{"values":[{"x":1143,"y":775,"t":"NNS"}]},"mark":{"type":"text","font":"Liberation Sans","fontWeight":"bold","fontStyle":"italic","fontSize":67,"align":"left","baseline":"alphabetic","color":"#1c5a9a"},"encoding":{"text":{"field":"t"}}},
{"data":{"values":[{"x":1307,"y":742}]},"mark":{"type":"point","filled":false,"color":"#55709a","opacity":1,"size":500,"strokeWidth":2},"encoding":{}}
]}
